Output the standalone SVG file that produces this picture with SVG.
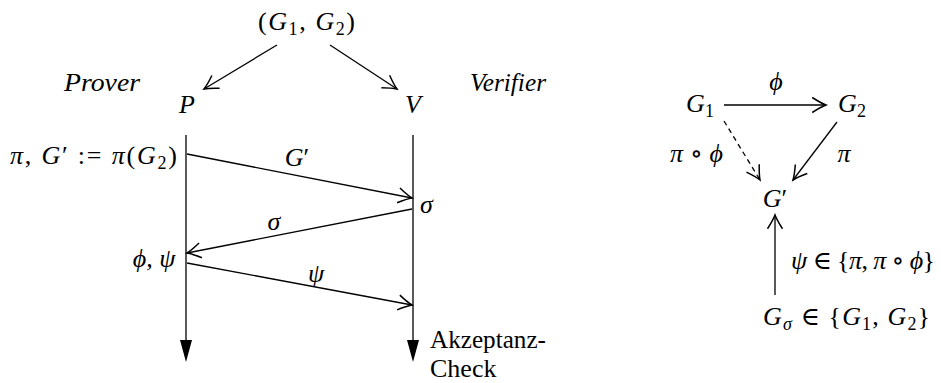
<svg xmlns="http://www.w3.org/2000/svg" width="941" height="383" viewBox="0 0 941 383">
<style>
text{font-family:"Liberation Serif","DejaVu Serif",serif;font-size:26px;fill:#000}
.m{font-style:italic}
.r{font-style:normal}
.sub{font-size:18px;font-style:normal}
.subi{font-size:18px;font-style:italic}
.ln{stroke:#000;stroke-width:1.3;fill:none}
</style>
<defs>
<marker id="oa" markerUnits="userSpaceOnUse" markerWidth="20" markerHeight="20" refX="0" refY="0" viewBox="-12 -8 14 16" orient="auto">
<path d="M-11,-6 Q-4,-1.5 0,0 Q-4,1.5 -11,6" fill="none" stroke="#000" stroke-width="1.2"/>
</marker>
</defs>
<g id="connectors">
<line class="ln" x1="277" y1="45" x2="204" y2="89" marker-end="url(#oa)"/>
<line class="ln" x1="330" y1="45" x2="397" y2="89" marker-end="url(#oa)"/>
<line class="ln" x1="186" y1="135" x2="186" y2="340"/>
<polygon points="180,340 192,340 186,362"/>
<line class="ln" x1="413" y1="135" x2="413" y2="340"/>
<polygon points="407,340 419,340 413,362"/>
<line class="ln" x1="187" y1="154" x2="412" y2="198" marker-end="url(#oa)"/>
<line class="ln" x1="412" y1="209" x2="187" y2="253" marker-end="url(#oa)"/>
<line class="ln" x1="187" y1="263" x2="412" y2="305" marker-end="url(#oa)"/>
<line class="ln" x1="724" y1="105" x2="826" y2="105" marker-end="url(#oa)"/>
<line class="ln" x1="724" y1="121" x2="760" y2="180" stroke-dasharray="5,4" marker-end="url(#oa)"/>
<line class="ln" x1="837" y1="122" x2="793" y2="180" marker-end="url(#oa)"/>
<line class="ln" x1="775" y1="295" x2="775" y2="215" marker-end="url(#oa)"/>
</g>
<g id="labels">
<text x="258" y="30" textLength="97" lengthAdjust="spacing"><tspan class="r">(</tspan><tspan class="m">G</tspan><tspan class="sub" dy="5">1</tspan><tspan class="r" dy="-5">, </tspan><tspan class="m">G</tspan><tspan class="sub" dy="5">2</tspan><tspan class="r" dy="-5">)</tspan></text>
<text class="m" x="64" y="91" textLength="76" lengthAdjust="spacingAndGlyphs">Prover</text>
<text class="m" x="470" y="91" textLength="76" lengthAdjust="spacingAndGlyphs">Verifier</text>
<text class="m" x="187" y="113" text-anchor="middle">P</text>
<text class="m" x="413" y="113" text-anchor="middle">V</text>
<text x="10" y="164" textLength="167" lengthAdjust="spacing"><tspan class="m">π</tspan><tspan class="r">, </tspan><tspan class="m">G</tspan><tspan class="r">′ := </tspan><tspan class="m">π</tspan><tspan class="r">(</tspan><tspan class="m">G</tspan><tspan class="sub" dy="5">2</tspan><tspan class="r" dy="-5">)</tspan></text>
<text x="297" y="166" text-anchor="middle"><tspan class="m">G</tspan><tspan class="r">′</tspan></text>
<text class="m" x="420" y="213">σ</text>
<text class="m" x="274" y="230" text-anchor="middle">σ</text>
<text class="m" x="154" y="267" text-anchor="middle">ϕ, ψ</text>
<text class="m" x="316" y="282" text-anchor="middle">ψ</text>
<text class="r" x="430" y="348" textLength="116" lengthAdjust="spacingAndGlyphs">Akzeptanz-</text>
<text class="r" x="430" y="377">Check</text>
<text x="700" y="112" text-anchor="middle"><tspan class="m">G</tspan><tspan class="sub" dy="5">1</tspan></text>
<text x="852" y="112" text-anchor="middle"><tspan class="m">G</tspan><tspan class="sub" dy="5">2</tspan></text>
<text class="m" x="776" y="90" text-anchor="middle">ϕ</text>
<text x="670" y="162" textLength="53" lengthAdjust="spacing"><tspan class="m">π</tspan><tspan class="r"> ∘ </tspan><tspan class="m">ϕ</tspan></text>
<text class="m" x="844" y="162" text-anchor="middle">π</text>
<text x="775" y="207" text-anchor="middle"><tspan class="m">G</tspan><tspan class="r">′</tspan></text>
<text x="791" y="269" textLength="144" lengthAdjust="spacing"><tspan class="m">ψ</tspan><tspan class="r"> ∈ {</tspan><tspan class="m">π</tspan><tspan class="r">, </tspan><tspan class="m">π</tspan><tspan class="r"> ∘ </tspan><tspan class="m">ϕ</tspan><tspan class="r">}</tspan></text>
<text x="763" y="325" textLength="167" lengthAdjust="spacing"><tspan class="m">G</tspan><tspan class="subi" dy="5">σ</tspan><tspan class="r" dy="-5"> ∈ {</tspan><tspan class="m">G</tspan><tspan class="sub" dy="5">1</tspan><tspan class="r" dy="-5">, </tspan><tspan class="m">G</tspan><tspan class="sub" dy="5">2</tspan><tspan class="r" dy="-5">}</tspan></text>
</g>
</svg>
